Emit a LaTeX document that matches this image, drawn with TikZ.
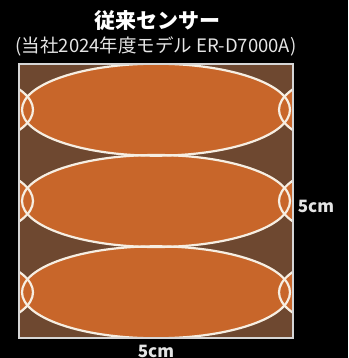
\documentclass[tikz,border=0pt]{standalone}
\usepackage{fontspec}
\setmainfont{Noto Sans CJK JP}
\usepackage{tikz}
\definecolor{SensorBrown}{HTML}{6E4830}
\definecolor{SensorOrange}{HTML}{C8662A}
\definecolor{SensorLine}{HTML}{F6EEE2}
\definecolor{SensorFrame}{HTML}{D6D6D6}
\definecolor{SensorText}{HTML}{E4E4E4}
\tikzset{
  spot/.style={fill=SensorOrange},
  spotline/.style={draw=SensorLine,line width=2.2pt},
  frame/.style={draw=SensorFrame,line width=2pt},
  title/.style={text=white,font=\fontsize{21}{21}\selectfont\bfseries,inner sep=0pt},
  subtitle/.style={text=SensorText,font=\fontsize{18.5}{18.5}\selectfont,inner sep=0pt},
  sizelabel/.style={text=SensorText,font=\fontsize{17}{17}\selectfont\bfseries,inner sep=0pt}
}

\begin{document}
\begin{tikzpicture}[x=1pt,y=-1pt]
  \fill[black] (0,0) rectangle (348,358);
  \useasboundingbox (0,0) rectangle (348,358);
  % sensing area
  \begin{scope}
    \clip (19,64) rectangle (293,338);
    \fill[SensorBrown] (19,64) rectangle (293,338);
    \foreach \cy in {109.7,201,292.3}
      \foreach \cx in {-101,156,413}
        \fill[spot] (\cx,\cy) ellipse [x radius=134pt, y radius=46pt];
    \foreach \cy in {109.7,201,292.3}
      \foreach \cx in {-101,156,413}
        \draw[spotline] (\cx,\cy) ellipse [x radius=134pt, y radius=46pt];
  \end{scope}
  \draw[frame] (19,64) rectangle (293,338);
  % labels
  \node[title] (head) at (157,21) {従来センサー};
  \node[subtitle] (model) at (156,46) {(当社2024年度モデル ER-D7000A)};
  \node[sizelabel] (height) at (316,206) {5cm};
  \node[sizelabel] (width) at (156,351) {5cm};
\end{tikzpicture}
\end{document}
